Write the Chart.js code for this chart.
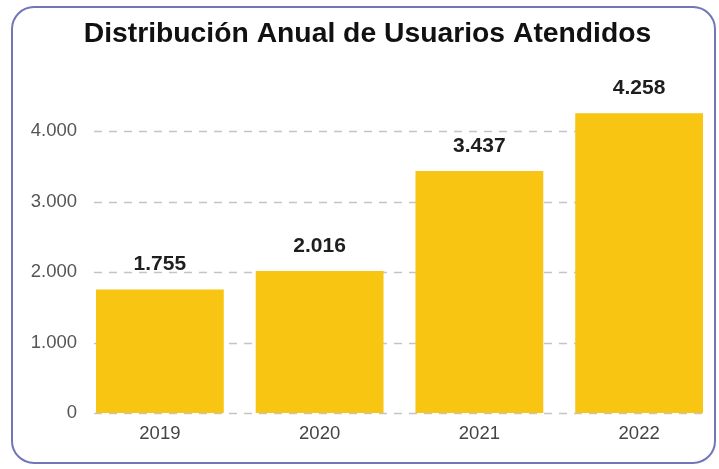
<!DOCTYPE html>
<html>
<head>
<meta charset="utf-8">
<script src="https://cdn.jsdelivr.net/npm/chart.js@4.4.1/dist/chart.umd.min.js"></script>
<style>
  html, body { margin: 0; padding: 0; background: #ffffff; }
  #wrap { width: 719px; height: 469px; position: relative; }
</style>
</head>
<body>
<div id="wrap"><canvas id="c" width="719" height="469"></canvas></div>
<script>
const categories = ['2019', '2020', '2021', '2022'];
const usuarios = [1755, 2016, 3437, 4258];
const yTicks = [0, 1000, 2000, 3000, 4000];
const titleText = 'Distribución Anual de Usuarios Atendidos';

const fmt = v => v.toLocaleString('de-DE');
const FONT = '"Liberation Sans", Arial, sans-serif';

const frame = {
  id: 'frame',
  afterDraw(chart) {
    const ctx = chart.ctx;
    ctx.save();
    ctx.strokeStyle = '#7276b8';
    ctx.lineWidth = 2;
    ctx.beginPath();
    ctx.roundRect(12, 7, 703, 456, 22);
    ctx.stroke();
    ctx.restore();
  }
};

// dashed gridlines spanning the extent of the bars
const dashedGrid = {
  id: 'dashedGrid',
  beforeDatasetsDraw(chart) {
    const ctx = chart.ctx;
    const y = chart.scales.y;
    const meta = chart.getDatasetMeta(0);
    const first = meta.data[0], last = meta.data[meta.data.length - 1];
    const x0 = first.x - first.width / 2 - 2;
    const x1 = last.x + last.width / 2;
    ctx.save();
    ctx.strokeStyle = '#c4c4c4';
    ctx.lineWidth = 1.5;
    ctx.setLineDash([8, 7]);
    y.ticks.forEach(t => {
      const py = Math.round(y.getPixelForValue(t.value)) + 0.5;
      ctx.beginPath();
      ctx.moveTo(x0, py);
      ctx.lineTo(x1, py);
      ctx.stroke();
    });
    ctx.restore();
  }
};

const valueLabels = {
  id: 'valueLabels',
  afterDatasetsDraw(chart) {
    const ctx = chart.ctx;
    const meta = chart.getDatasetMeta(0);
    ctx.save();
    ctx.font = 'bold 21px ' + FONT;
    ctx.fillStyle = '#1e1e1e';
    ctx.textAlign = 'center';
    ctx.textBaseline = 'middle';
    meta.data.forEach((bar, i) => {
      ctx.fillText(fmt(usuarios[i]), bar.x, bar.y - 25);
    });
    ctx.restore();
  }
};

new Chart(document.getElementById('c'), {
  type: 'bar',
  data: {
    labels: categories,
    datasets: [{
      data: usuarios,
      backgroundColor: '#f8c512',
      borderWidth: 0,
      barPercentage: 0.8,
      categoryPercentage: 1.0
    }]
  },
  plugins: [frame, dashedGrid, valueLabels],
  options: {
    responsive: false,
    animation: false,
    layout: { padding: { left: 16, right: 0, top: 0, bottom: 13.8 } },
    plugins: {
      legend: { display: false },
      tooltip: { enabled: false },
      title: {
        display: true,
        text: titleText,
        color: '#111111',
        font: { family: FONT, size: 28.3, weight: 'bold', lineHeight: 1.2 },
        padding: { top: 17.2, bottom: 45 }
      }
    },
    scales: {
      x: {
        grid: { display: false, drawTicks: false },
        border: { display: false },
        ticks: {
          color: '#444444',
          padding: 10,
          font: { family: FONT, size: 18.5, lineHeight: 1.2 }
        }
      },
      y: {
        min: 0,
        max: 4500,
        afterBuildTicks(scale) {
          scale.ticks = yTicks.map(v => ({ value: v }));
        },
        afterFit(scale) { scale.width = 64; },
        grid: { display: false, drawTicks: false },
        border: { display: false },
        ticks: {
          color: '#555555',
          padding: 3,
          callback: v => fmt(v),
          font: { family: FONT, size: 18.5, lineHeight: 1.2 }
        }
      }
    }
  }
});
</script>
</body>
</html>
